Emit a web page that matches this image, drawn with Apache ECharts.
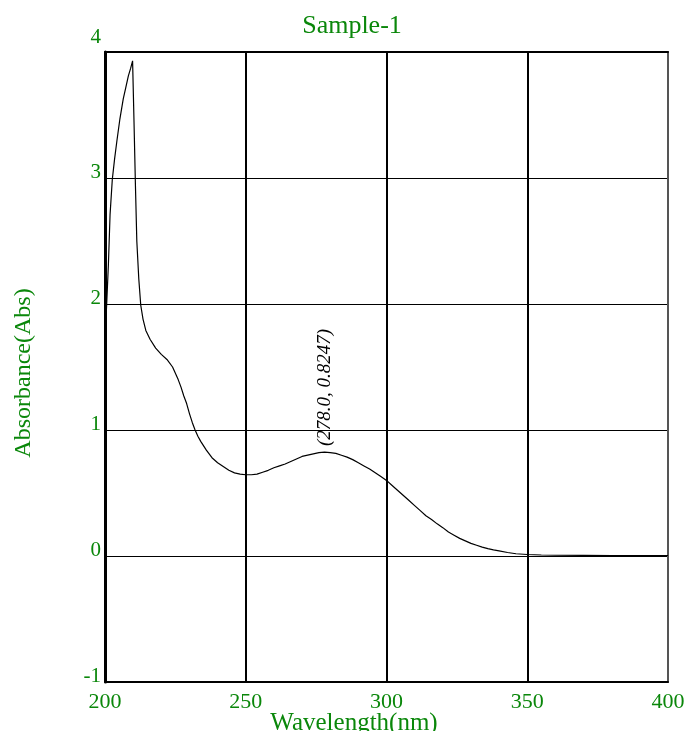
<!DOCTYPE html>
<html>
<head>
<meta charset="utf-8">
<script src="https://cdn.jsdelivr.net/npm/echarts@6/dist/echarts.min.js"></script>
<style>html,body{margin:0;padding:0;background:#fff}#c{width:689px;height:731px}</style>
</head>
<body>
<div id="c"></div>
<script>
var wavelengths = [200,200.35,200.6,201.2,201.8,202.6,203.4,204.2,205.3,206.5,207.4,208.3,209.1,209.8,210.3,210.8,211.3,212,212.7,213.5,214.5,216,218,220,222,224,226,227,228,229,230,231,232,233,234,236,238,240,242,244,246,248,250,252,254,256,258,260,262,264,266,268,270,272,274,276,278,280,282,284,286,288,290,292,294,296,298,300,302,304,306,308,310,312,314,316,318,320,322,324,326,328,330,332,334,336,338,340,343,346,350,355,360,370,380,390,400];
var absorbance = [1.85,1.89,2.0,2.31,2.71,2.99,3.15,3.29,3.47,3.63,3.72,3.81,3.87,3.93,3.45,2.95,2.5,2.2,1.99,1.88,1.79,1.72,1.65,1.6,1.56,1.5,1.4,1.34,1.27,1.21,1.13,1.06,1.0,0.95,0.91,0.84,0.78,0.74,0.71,0.68,0.66,0.65,0.645,0.645,0.65,0.665,0.68,0.70,0.715,0.73,0.75,0.77,0.79,0.80,0.81,0.82,0.8247,0.82,0.815,0.80,0.785,0.765,0.74,0.715,0.69,0.66,0.63,0.60,0.56,0.52,0.48,0.44,0.40,0.36,0.32,0.29,0.255,0.225,0.19,0.165,0.14,0.12,0.10,0.085,0.07,0.058,0.048,0.04,0.028,0.018,0.012,0.008,0.006,0.005,0.004,0.004,0.004];
var peak = [278.0, 0.8247];
var titleText = 'Sample-1';
var xName = 'Wavelength(nm)';
var yName = 'Absorbance(Abs)';

var green = '#0a870a';
var font = '"Liberation Serif","Times New Roman",serif';
var chart = echarts.init(document.getElementById('c'), null, {renderer:'canvas'});
var pts = wavelengths.map(function(w,i){return [w, absorbance[i]];});
chart.setOption({
  animation:false,
  backgroundColor:'#fff',
  grid:{left:105,right:21,top:52,bottom:49,show:false},
  xAxis:[{
    type:'value',min:200,max:400,interval:50,position:'bottom',
    axisLine:{show:true,onZero:false,lineStyle:{color:'#000',width:2}},
    axisTick:{show:false},
    axisLabel:{color:green,fontFamily:font,fontSize:22,margin:9},
    splitLine:{show:true,lineStyle:{color:'#000',width:2}}
  },{
    type:'value',min:200,max:400,interval:50,position:'top',
    axisLine:{show:true,onZero:false,lineStyle:{color:'#000',width:2}},
    axisTick:{show:false},axisLabel:{show:false},splitLine:{show:false}
  }],
  yAxis:[{
    type:'value',min:-1,max:4,interval:1,position:'left',
    axisLine:{show:true,onZero:false,lineStyle:{color:'#000',width:3}},
    axisTick:{show:false},
    axisLabel:{color:green,fontFamily:font,fontSize:21,margin:4,
      formatter:function(v){return v===4?'{t|4}':'{n|'+v+'}';},
      rich:{n:{fontFamily:font,fontSize:21,color:green,padding:[0,0,12,0]},
            t:{fontFamily:font,fontSize:21,color:green,padding:[0,0,30,0]}}},
    splitLine:{show:true,lineStyle:{color:'#000',width:1}}
  },{
    type:'value',min:-1,max:4,interval:1,position:'right',
    axisLine:{show:true,onZero:false,lineStyle:{color:'#555',width:2}},
    axisTick:{show:false},axisLabel:{show:false},splitLine:{show:false}
  }],
  graphic:[
    {type:'text',style:{text:titleText,x:352,y:13,textAlign:'center',textVerticalAlign:'top',font:'26px '+font,fill:green}},
    {type:'text',style:{text:xName,x:354,y:711,textAlign:'center',textVerticalAlign:'top',font:'25px '+font,fill:green}},
    {type:'text',rotation:Math.PI/2,x:24,y:373,style:{text:yName,x:0,y:0,textAlign:'center',textVerticalAlign:'middle',font:'24px '+font,fill:green}}
  ],
  series:[{
    type:'line',data:pts,showSymbol:false,symbol:'none',
    lineStyle:{color:'#000',width:1.2},
    markPoint:{
      symbol:'circle',symbolSize:0,silent:true,
      data:[{coord:peak}],
      label:{show:true,position:'top',distance:6,rotate:90,align:'left',verticalAlign:'middle',
        formatter:'(' + peak[0].toFixed(1) + ', ' + peak[1].toFixed(4) + ')',
        color:'#000',fontFamily:font,fontStyle:'italic',fontSize:19}
    }
  }]
});
</script>
</body>
</html>
